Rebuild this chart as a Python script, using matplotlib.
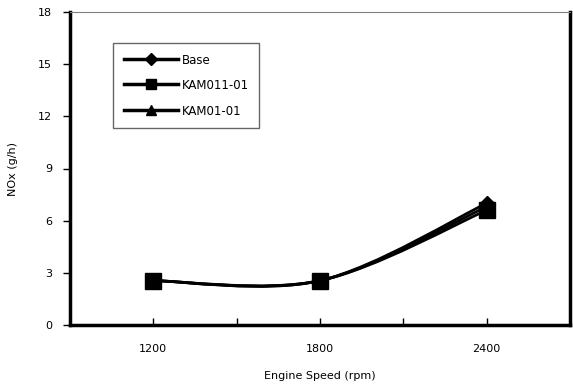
import numpy as np
import matplotlib.pyplot as plt
from matplotlib.path import Path
from matplotlib.patches import PathPatch
from matplotlib.lines import Line2D

# data
speed = [1200, 1800, 2400]
base = [2.55, 2.55, 7.0]
kam011 = [2.55, 2.55, 6.6]
kam01 = [2.55, 2.55, 6.8]

series = [
    ('Base', base, 'D'),
    ('KAM011-01', kam011, 's'),
    ('KAM01-01', kam01, '^'),
]


def smooth_path(x, y):
    # Excel-style smoothed line: cubic bezier through the points
    pts = np.column_stack([x, y]).astype(float)
    ext = np.vstack([pts[0], pts, pts[-1]])
    verts = [pts[0]]
    codes = [Path.MOVETO]
    for i in range(len(pts) - 1):
        p0, p1, p2, p3 = ext[i], ext[i + 1], ext[i + 2], ext[i + 3]
        c1 = p1 + (p2 - p0) / 6
        c2 = p2 - (p3 - p1) / 6
        verts += [c1, c2, p2]
        codes += [Path.CURVE4] * 3
    return Path(verts, codes)


plt.rcParams['font.family'] = ['DejaVu Sans']
fig = plt.figure(figsize=(5.73, 3.92), dpi=100)
ax = fig.add_axes([70 / 573, 1 - 325 / 392, 500 / 573, 313 / 392])

z = {'D': 3, '^': 3, 's': 4}
for name, vals, mk in series:
    ax.add_patch(PathPatch(smooth_path(speed, vals), fill=False,
                           edgecolor='black', lw=2.0, zorder=2))
    ax.plot(speed, vals, linestyle='none', marker=mk, color='black',
            markersize=12 if mk == 's' else 7.5, zorder=z[mk])

ax.set_xlim(900, 2700)
ax.set_ylim(0, 18)
ax.set_xticks([1200, 1500, 1800, 2100, 2400])
ax.set_xticklabels(['1200', '', '1800', '', '2400'])
ax.set_yticks(np.arange(0, 19, 3))
ax.tick_params(axis='x', direction='in', length=5, width=1, labelsize=8, pad=14)
ax.tick_params(axis='y', direction='out', length=5, width=1, labelsize=8, pad=8)

for s in ['left', 'bottom', 'right']:
    ax.spines[s].set_linewidth(2.5)
    ax.spines[s].set_color('black')
ax.spines['top'].set_linewidth(0.8)
ax.spines['top'].set_color('#808080')

ax.set_xlabel('Engine Speed (rpm)', fontsize=8, labelpad=12)
ax.set_ylabel('NOx (g/h)', fontsize=8, labelpad=14)

handles = [Line2D([0], [0], color='black', lw=2.5, marker=mk, markersize=6.5)
           for _, _, mk in series]
leg = ax.legend(handles, [n for n, _, _ in series], loc='upper left',
                bbox_to_anchor=(43 / 500, 1 - 31 / 313), borderaxespad=0,
                fontsize=8.5, frameon=True, fancybox=False,
                handlelength=4.6, handleheight=1.2, borderpad=0.9,
                labelspacing=1.05, handletextpad=0.3)
leg.get_frame().set_edgecolor('#404040')
leg.get_frame().set_linewidth(1.0)

fig.savefig('out.png', dpi=100)
